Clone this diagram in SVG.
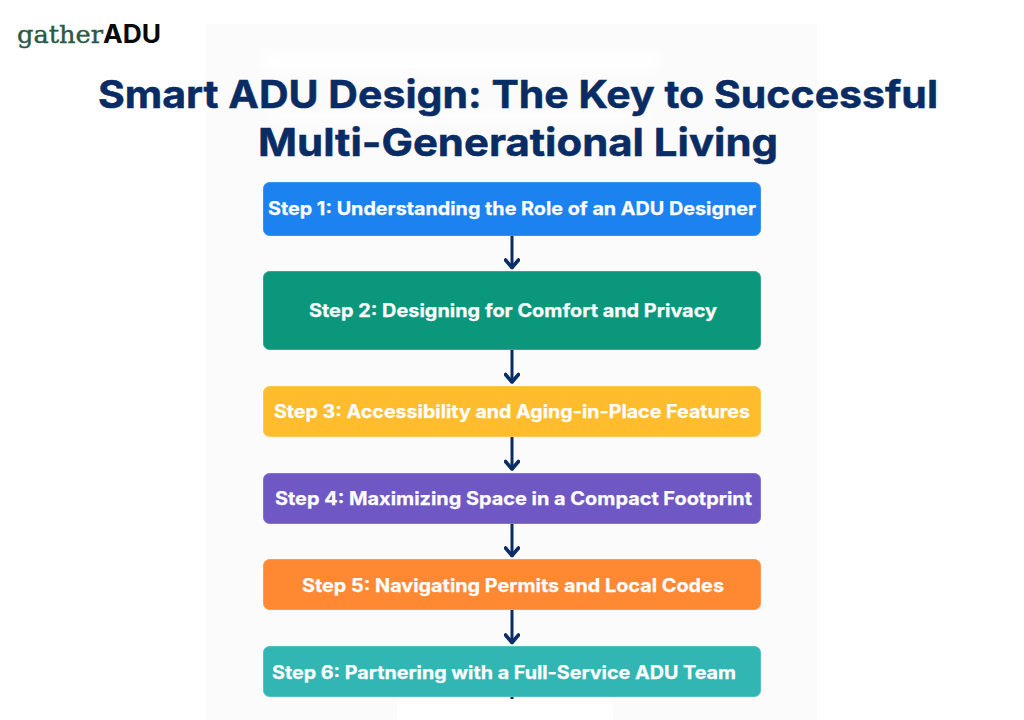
<svg xmlns="http://www.w3.org/2000/svg" width="1024" height="720" viewBox="0 0 1024 720">
<style>
.t{font-family:"Inter","Liberation Sans",sans-serif;font-weight:700;fill:#082c63;stroke:#082c63;stroke-width:.5px;font-size:38px}
.s{font-family:"Inter","Liberation Sans",sans-serif;font-weight:700;fill:#fdfdfd;stroke:#fdfdfd;stroke-width:.25px;font-size:18.5px}
.b{stroke-width:1}
.c{fill:none;stroke:#0a2d66;stroke-width:3}
</style>
<defs>
<marker id="a" markerUnits="userSpaceOnUse" markerWidth="22" markerHeight="16" refX="18" refY="8" orient="auto"><path d="M9.500 1.500L17 8L9.500 14.500" fill="none" stroke="#0a2d66" stroke-width="3.600" stroke-linecap="round" stroke-linejoin="round"/></marker>
<filter id="g" x="-10%" y="-50%" width="120%" height="200%"><feGaussianBlur stdDeviation="4"/></filter>
</defs>
<rect width="1024" height="720" fill="#fff"/>
<path d="M206 24H817V720H613V698H397V720H206Z" fill="#fbfbfb"/>
<g id="ghost" fill="#fff" filter="url(#g)" opacity=".8"><rect x="262" y="52" width="398" height="20" rx="8"/><rect x="268" y="113" width="380" height="6" rx="3"/></g>
<g id="logo"><text x="17" y="43" font-family="DejaVu Serif,Liberation Serif,serif" font-size="24" fill="#2a5a46" stroke="#2a5a46" stroke-width=".4" textLength="86" lengthAdjust="spacingAndGlyphs">gather</text><text x="103" y="43" font-family="Inter,Liberation Sans,sans-serif" font-weight="700" font-size="25" fill="#0a0a0a" textLength="58" lengthAdjust="spacingAndGlyphs">ADU</text></g>
<g id="title"><text class="t" x="98" y="108" textLength="840" lengthAdjust="spacingAndGlyphs">Smart ADU Design: The Key to Successful</text><text class="t" x="258" y="156" textLength="520" lengthAdjust="spacingAndGlyphs">Multi-Generational Living</text></g>
<g id="connectors">
<path class="c" marker-end="url(#a)" d="M512 235V268.500"/>
<path class="c" marker-end="url(#a)" d="M512 349V383"/>
<path class="c" marker-end="url(#a)" d="M512 436V470"/>
<path class="c" marker-end="url(#a)" d="M512 523V556.500"/>
<path class="c" marker-end="url(#a)" d="M512 610V643.500"/>
<path class="c" d="M512 697V699"/>
</g>
<g id="step1"><rect class="b" x="263.500" y="182.500" width="497" height="53" rx="6" fill="#1c82ef" stroke="#3a92ee"/><text class="s" x="268" y="215" textLength="488" lengthAdjust="spacingAndGlyphs">Step 1: Understanding the Role of an ADU Designer</text></g>
<g id="step2"><rect class="b" x="263.500" y="271.500" width="497" height="78" rx="6" fill="#0b977c" stroke="#35a68f"/><text class="s" x="309" y="317" textLength="408" lengthAdjust="spacingAndGlyphs">Step 2: Designing for Comfort and Privacy</text></g>
<g id="step3"><rect class="b" x="263.500" y="386.500" width="497" height="50" rx="6" fill="#ffbd2e" stroke="#fdc851"/><text class="s" x="274" y="418" textLength="476" lengthAdjust="spacingAndGlyphs">Step 3: Accessibility and Aging-in-Place Features</text></g>
<g id="step4"><rect class="b" x="263.500" y="473.500" width="497" height="50" rx="6" fill="#6f58c4" stroke="#8472cd"/><text class="s" x="275" y="505" textLength="477" lengthAdjust="spacingAndGlyphs">Step 4: Maximizing Space in a Compact Footprint</text></g>
<g id="step5"><rect class="b" x="263.500" y="559.500" width="497" height="50" rx="6" fill="#ff8833" stroke="#fd9a55"/><text class="s" x="302" y="592" textLength="422" lengthAdjust="spacingAndGlyphs">Step 5: Navigating Permits and Local Codes</text></g>
<g id="step6"><rect class="b" x="263.500" y="646.500" width="497" height="50" rx="6" fill="#32b6b4" stroke="#52c2c0"/><text class="s" x="272" y="679" textLength="464" lengthAdjust="spacingAndGlyphs">Step 6: Partnering with a Full-Service ADU Team</text></g>
</svg>
